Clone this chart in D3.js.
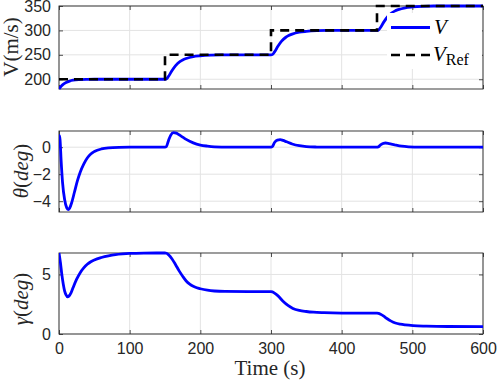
<!DOCTYPE html>
<html>
<head>
<meta charset="utf-8">
<script src="https://cdn.jsdelivr.net/npm/d3@7"></script>
<style>
  body { margin: 0; background: #fff; }
  svg { display: block; }
</style>
</head>
<body>
<script>
// three stacked panels: speed tracking, pitch and flight path angle

var W = 498, H = 385;

// time ticks shared by all panels
var timeTicks = [0, 100, 200, 300, 400, 500, 600];

// speed V (m/s), [time, value]
var speedV = [[0,180],[2,184],[5,188.5],[10,193.5],[15,196.3],[20,198],[30,199.3],[40,199.8],[50,200],[100,200],[150,200],
  [152,200.6],[155,206],[160,218],[165,228],[171,236],[175,239.5],[180,242.5],[190,246.3],[200,248],[215,249.4],[230,250],[300,250],
  [302,250.6],[305,256],[310,268],[315,278],[321,286],[325,289.5],[330,292.5],[340,296.3],[350,298],[365,299.4],[380,300],[450,300],
  [452,300.6],[455,306],[460,318],[465,328],[471,336],[475,339.5],[480,342.5],[490,346.3],[500,348],[515,349.4],[530,350],[600,350]];

// reference speed steps
var speedRef = [[0,200],[150,200],[150,250],[300,250],[300,300],[450,300],[450,350],[600,350]];

// pitch angle theta (deg)
var pitch = [[0,0],[0.6,0.85],[1.5,0.55],[3,-1.0],[5,-2.6],[8,-3.9],[11,-4.5],[13,-4.62],[15,-4.52],[18,-4.1],[22,-3.3],
  [26,-2.5],[30,-1.85],[35,-1.25],[40,-0.8],[45,-0.5],[50,-0.32],[60,-0.13],[70,-0.05],[85,-0.01],[100,0],[150,0],
  [152,0.05],[155,0.5],[158,0.88],[162,1.08],[166,1.04],[170,0.92],[175,0.75],[180,0.58],[190,0.32],[200,0.16],[210,0.08],[220,0.03],[240,0],[300,0],
  [302,0.05],[305,0.35],[309,0.53],[313,0.56],[317,0.5],[322,0.4],[330,0.24],[340,0.11],[350,0.04],[365,0.01],[380,0],[450,0],
  [452,0.03],[455,0.18],[459,0.29],[462,0.31],[467,0.27],[475,0.18],[485,0.08],[495,0.03],[510,0],[600,0]];

// flight path angle gamma (deg)
var pathAngle = [[0,6.8],[2,6.0],[4,5.0],[6,4.2],[8,3.6],[10,3.28],[12,3.12],[14,3.18],[17,3.45],[20,3.9],[25,4.6],
  [30,5.15],[35,5.55],[40,5.85],[45,6.07],[50,6.22],[60,6.42],[70,6.56],[80,6.66],[90,6.72],[100,6.76],[120,6.79],[150,6.8],
  [152,6.78],[155,6.65],[160,6.3],[165,5.82],[170,5.3],[175,4.85],[180,4.45],[185,4.18],[190,4.0],[195,3.88],[200,3.8],[210,3.68],[220,3.61],[235,3.57],[300,3.55],
  [302,3.53],[305,3.43],[310,3.2],[317,2.75],[324,2.4],[331,2.15],[340,1.98],[350,1.89],[360,1.83],[375,1.79],[400,1.76],[450,1.75],
  [452,1.73],[455,1.66],[459,1.52],[464,1.3],[470,1.08],[476,0.92],[483,0.82],[490,0.76],[501,0.7],[520,0.66],[550,0.63],[600,0.62]];

var yTicks1 = [200, 250, 300, 350];
var yTicks2 = [-4, -2, 0];
var yTicks3 = [0, 5];

var left = 59, right = 483;
var axisColor = '#262626', gridColor = '#e3e3e3', blue = '#0000ff';
var sans = "'Liberation Sans', Arial, sans-serif";
var serif = "'Liberation Serif', 'DejaVu Serif', serif";

var svg = d3.select('body').append('svg')
  .attr('width', W)
  .attr('height', H);

var xScale = d3.scaleLinear().domain([0, 600]).range([left, right]);

function panel(top, bottom, domain, ticks, showX){
  var y = d3.scaleLinear().domain(domain).range([bottom, top]);
  var g = svg.append('g');

  // grid
  g.selectAll('.gx').data(timeTicks).enter().append('line')
    .attr('x1', function(d){ return xScale(d); }).attr('x2', function(d){ return xScale(d); })
    .attr('y1', top).attr('y2', bottom)
    .attr('stroke', gridColor).attr('stroke-width', 1);
  g.selectAll('.gy').data(ticks).enter().append('line')
    .attr('x1', left).attr('x2', right)
    .attr('y1', function(d){ return y(d); }).attr('y2', function(d){ return y(d); })
    .attr('stroke', gridColor).attr('stroke-width', 1);

  // axes with inward ticks on all four sides
  var axL = g.append('g').attr('transform', 'translate(' + left + ',0)')
    .call(d3.axisLeft(y).tickValues(ticks).tickSizeInner(-4).tickSizeOuter(0).tickPadding(8)
      .tickFormat(d3.format('d')));
  var axR = g.append('g').attr('transform', 'translate(' + right + ',0)')
    .call(d3.axisRight(y).tickValues(ticks).tickSizeInner(-4).tickSizeOuter(0).tickFormat(''));
  var axB = g.append('g').attr('transform', 'translate(0,' + bottom + ')')
    .call(d3.axisBottom(xScale).tickValues(timeTicks).tickSizeInner(-4).tickSizeOuter(0).tickPadding(9)
      .tickFormat(showX ? d3.format('d') : ''));
  var axT = g.append('g').attr('transform', 'translate(0,' + top + ')')
    .call(d3.axisTop(xScale).tickValues(timeTicks).tickSizeInner(-4).tickSizeOuter(0).tickFormat(''));

  [axL, axR, axB, axT].forEach(function(a){
    a.selectAll('path').remove();
    a.selectAll('line').attr('stroke', axisColor).attr('stroke-width', 0.8);
    a.selectAll('text').attr('fill', axisColor).style('font-family', sans).style('font-size', '16px');
  });

  g.append('rect')
    .attr('x', left).attr('y', top).attr('width', right - left).attr('height', bottom - top)
    .attr('fill', 'none').attr('stroke', axisColor).attr('stroke-width', 0.9);

  var clip = 'clip' + top;
  svg.append('clipPath').attr('id', clip).append('rect')
    .attr('x', left).attr('y', top - 2).attr('width', right - left).attr('height', bottom - top + 4);

  return { g: g, y: y, clip: clip };
}

function drawLine(p, data, color, width){
  var line = d3.line()
    .x(function(d){ return xScale(d[0]); })
    .y(function(d){ return p.y(d[1]); })
    .curve(d3.curveMonotoneX);
  p.g.append('path')
    .datum(data)
    .attr('clip-path', 'url(#' + p.clip + ')')
    .attr('d', line)
    .attr('fill', 'none')
    .attr('stroke', color)
    .attr('stroke-width', width)
    .attr('stroke-linejoin', 'round');
}

// panel 1: speed
var p1 = panel(6, 89, [180, 350], yTicks1, false);
drawLine(p1, speedV, blue, 2.8);
var refLine = d3.line().x(function(d){ return xScale(d[0]); }).y(function(d){ return p1.y(d[1]); });
p1.g.append('path').datum(speedRef)
  .attr('clip-path', 'url(#' + p1.clip + ')')
  .attr('d', refLine).attr('fill', 'none').attr('stroke', '#000')
  .attr('stroke-width', 2.6).attr('stroke-dasharray', '9,6');

// legend
var lg = p1.g.append('g');
lg.append('rect').attr('x', 387).attr('y', 13).attr('width', 95).attr('height', 56).attr('fill', '#fff');
lg.append('line').attr('x1', 391).attr('x2', 430).attr('y1', 27.5).attr('y2', 27.5)
  .attr('stroke', blue).attr('stroke-width', 2.8);
lg.append('line').attr('x1', 391).attr('x2', 430).attr('y1', 55).attr('y2', 55)
  .attr('stroke', '#000').attr('stroke-width', 2.6).attr('stroke-dasharray', '9,6');
lg.append('text').attr('x', 434).attr('y', 34).style('font-family', serif).style('font-size', '21px')
  .style('font-style', 'italic').text('V');
var refLabel = lg.append('text').attr('x', 433).attr('y', 61).style('font-family', serif).style('font-size', '21px');
refLabel.append('tspan').style('font-style', 'italic').text('V');
refLabel.append('tspan').attr('dy', 4).style('font-size', '16px').text('Ref');

// panel 2: pitch
var p2 = panel(131, 212, [-4.8, 1.2], yTicks2, false);
drawLine(p2, pitch, blue, 2.8);

// panel 3: flight path angle
var p3 = panel(253, 334, [0, 6.8], yTicks3, true);
drawLine(p3, pathAngle, blue, 2.8);

// axis labels
function yLabel(x, cy, parts){
  var t = svg.append('text')
    .attr('transform', 'translate(' + x + ',' + cy + ') rotate(-90)')
    .attr('text-anchor', 'middle')
    .style('font-family', serif).style('font-size', '21px').attr('fill', axisColor);
  parts.forEach(function(p){
    t.append('tspan').style('font-style', p[1] ? 'italic' : 'normal').text(p[0]);
  });
}
yLabel(18, 47, [['V', false], ['(m/s)', false]]);
yLabel(28, 171, [['θ', true], ['(', false], ['deg', true], [')', false]]);
yLabel(28, 299, [['γ', true], ['(', false], ['deg', true], [')', false]]);

svg.append('text').attr('x', 270).attr('y', 375).attr('text-anchor', 'middle')
  .style('font-family', serif).style('font-size', '21px').attr('fill', axisColor)
  .text('Time (s)');
</script>
</body>
</html>
